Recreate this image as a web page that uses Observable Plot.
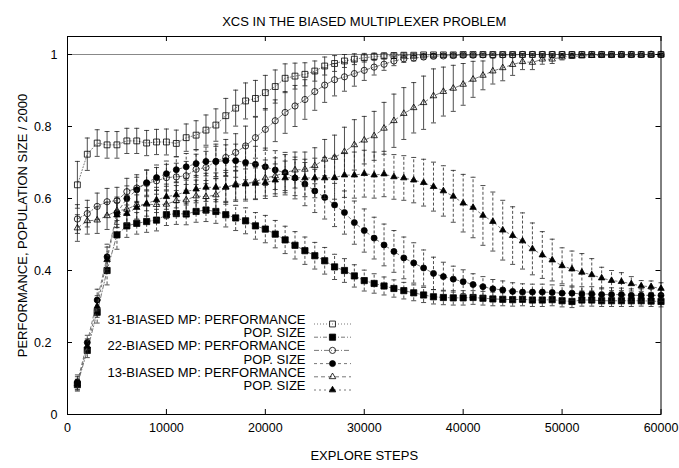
<!DOCTYPE html>
<html><head><meta charset="utf-8">
<script src="https://cdn.jsdelivr.net/npm/d3@7"></script>
<script src="https://cdn.jsdelivr.net/npm/@observablehq/plot@0.6"></script>
<style>body{margin:0;background:#fff}</style>
</head><body><div id="chart"></div>
<script>
const title = "XCS IN THE BIASED MULTIPLEXER PROBLEM";
const xLabel = "EXPLORE STEPS";
const yLabel = "PERFORMANCE, POPULATION SIZE / 2000";
const xTicks = [0, 10000, 20000, 30000, 40000, 50000, 60000];
const yTicksEnds = [0, 1];
const yTicksMid = [0.2, 0.4, 0.6, 0.8];
const steps = [1000,2000,3000,4000,5000,6000,7000,8000,9000,10000,
 11000,12000,13000,14000,15000,16000,17000,18000,19000,20000,
 21000,22000,23000,24000,25000,26000,27000,28000,29000,30000,
 31000,32000,33000,34000,35000,36000,37000,38000,39000,40000,
 41000,42000,43000,44000,45000,46000,47000,48000,49000,50000,
 51000,52000,53000,54000,55000,56000,57000,58000,59000,60000];

const perf31 = [.638,.723,.754,.749,.749,.760,.760,.754,.757,.757,
 .753,.769,.776,.790,.804,.830,.851,.871,.878,.894,
 .911,.934,.940,.945,.954,.968,.975,.982,.987,.991,
 .994,.996,.997,.998,.998,.999,.999,.999,.999,1,
 1,1,1,1,1,1,1,1,1,1,
 1,1,1,1,1,1,1,1,1,1];
const sdPerf31 = [.065,.045,.037,.037,.037,.035,.035,.035,.035,.036,
 .037,.038,.040,.042,.045,.048,.050,.050,.050,.048,
 .046,.040,.036,.032,.028,.025,.022,.018,.015,.012,
 .010,.008,.007,.006,.005,.004,.004,.003,.003,.003,
 .002,.002,.002,.002,.002,.002,.002,.002,.002,.002,
 .002,.002,.002,.002,.002,.002,.002,.002,.002,.002];
const pop31 = [.083,.178,.284,.400,.499,.524,.531,.536,.540,.555,
 .558,.557,.564,.568,.564,.555,.546,.538,.524,.515,
 .501,.485,.470,.455,.441,.427,.410,.400,.385,.372,
 .364,.357,.350,.344,.338,.332,.327,.325,.324,.324,
 .325,.323,.321,.320,.319,.320,.318,.318,.319,.316,
 .314,.318,.318,.316,.316,.316,.316,.316,.315,.314];
const sdPop31 = [.015,.02,.03,.04,.04,.032,.03,.03,.03,.03,
 .03,.03,.03,.032,.033,.034,.035,.036,.037,.038,
 .038,.038,.038,.038,.037,.037,.035,.033,.031,.029,
 .027,.025,.024,.023,.022,.021,.02,.02,.02,.02,
 .019,.019,.019,.018,.018,.018,.018,.018,.017,.017,
 .017,.017,.017,.016,.016,.016,.016,.015,.015,.015];
const perf22 = [.543,.558,.578,.591,.594,.619,.629,.642,.649,.658,
 .660,.663,.681,.686,.703,.714,.728,.746,.769,.792,
 .816,.839,.857,.875,.897,.915,.930,.938,.947,.956,
 .965,.973,.982,.988,.990,.993,.995,.996,.997,.998,
 .998,.999,.999,.999,.999,1,1,1,1,1,
 1,1,1,1,1,1,1,1,1,1];
const sdPerf22 = [.04,.037,.037,.037,.037,.037,.037,.037,.037,.037,
 .038,.04,.042,.045,.048,.05,.052,.055,.057,.058,
 .058,.058,.057,.055,.052,.048,.045,.04,.035,.028,
 .022,.017,.013,.01,.008,.006,.005,.004,.004,.003,
 .003,.003,.002,.002,.002,.002,.002,.002,.002,.002,
 .002,.002,.002,.002,.002,.002,.002,.002,.002,.002];
const pop22 = [.090,.200,.318,.438,.560,.600,.624,.644,.658,.669,
 .680,.688,.697,.703,.703,.705,.705,.700,.695,.688,
 .679,.672,.657,.640,.621,.603,.582,.561,.533,.511,
 .490,.471,.453,.435,.421,.407,.392,.383,.376,.369,
 .361,.355,.349,.346,.342,.340,.340,.340,.339,.337,
 .337,.335,.335,.333,.333,.333,.331,.331,.331,.331];
const sdPop22 = [.02,.02,.03,.035,.04,.035,.035,.035,.035,.035,
 .036,.037,.038,.04,.042,.044,.046,.048,.05,.052,
 .054,.056,.058,.06,.06,.06,.06,.06,.06,.06,
 .058,.058,.058,.058,.056,.05,.045,.04,.036,.033,
 .03,.028,.026,.025,.024,.023,.022,.022,.021,.021,
 .02,.02,.02,.019,.019,.018,.018,.018,.017,.017];
const perf13 = [.518,.538,.540,.552,.566,.570,.583,.584,.583,.584,
 .594,.596,.607,.605,.610,.631,.640,.642,.647,.657,
 .663,.672,.679,.681,.691,.709,.714,.730,.749,.762,
 .774,.795,.816,.836,.852,.866,.885,.897,.906,.917,
 .931,.942,.954,.963,.972,.980,.978,.987,.987,.993,
 .995,.996,.997,.998,.998,.999,.999,.999,1,1];
const sdPerf13 = [.037,.037,.037,.038,.038,.039,.04,.04,.04,.04,
 .042,.043,.044,.045,.046,.047,.048,.049,.05,.05,
 .05,.05,.05,.048,.05,.055,.062,.068,.07,.066,
 .068,.072,.074,.072,.07,.074,.075,.068,.064,.058,
 .05,.04,.036,.036,.03,.022,.02,.014,.012,.008,
 .006,.005,.004,.004,.003,.003,.002,.002,.002,.002];
const pop13 = [.085,.190,.300,.430,.554,.558,.575,.586,.596,.605,
 .610,.619,.626,.631,.631,.632,.637,.640,.642,.644,
 .651,.657,.658,.657,.657,.657,.658,.665,.665,.669,
 .665,.668,.660,.657,.651,.644,.633,.621,.606,.587,
 .575,.553,.536,.512,.497,.482,.460,.443,.429,.413,
 .404,.395,.388,.379,.372,.369,.363,.357,.355,.350];
const sdPop13 = [.02,.02,.03,.035,.035,.035,.035,.035,.035,.035,
 .036,.037,.038,.039,.04,.04,.041,.042,.043,.044,
 .045,.047,.05,.052,.055,.057,.06,.062,.064,.065,
 .064,.063,.062,.062,.063,.065,.068,.07,.072,.08,
 .084,.083,.082,.083,.08,.078,.072,.065,.058,.05,
 .05,.052,.045,.03,.028,.025,.02,.015,.016,.016];

const legendLabels = ["31-BIASED MP: PERFORMANCE", "POP. SIZE", "22-BIASED MP: PERFORMANCE", "POP. SIZE", "13-BIASED MP: PERFORMANCE", "POP. SIZE"];

const series = [
  {values: perf31, sd: sdPerf31, symbol: "square", r: 3.3, filled: false, lineDash: "1,2", barDash: null},
  {values: pop31, sd: sdPop31, symbol: "square", r: 3.5, filled: true, lineDash: "4,2,1,2", barDash: "3,2"},
  {values: perf22, sd: sdPerf22, symbol: "circle", r: 3.1, filled: false, lineDash: "5,2,1,2", barDash: null},
  {values: pop22, sd: sdPop22, symbol: "circle", r: 3.0, filled: true, lineDash: "3,3", barDash: "3,2"},
  {values: perf13, sd: sdPerf13, symbol: "triangle", r: 2.4, filled: false, lineDash: "4,3", barDash: null},
  {values: pop13, sd: sdPop13, symbol: "triangle", r: 2.4, filled: true, lineDash: "2,3", barDash: "3,2"}
];

const capSymbol = {draw(ctx) { ctx.moveTo(-2.5, 0); ctx.lineTo(2.5, 0); }};
const lineSymbol = {draw(ctx) { ctx.moveTo(-18.5, 0); ctx.lineTo(18.5, 0); }};

const W = 679, H = 468, mL = 67, mR = 18.5, mT = 36, mB = 54;
const fw = W - mL - mR, fh = H - mT - mB, tk = 5;
const font = "'Liberation Sans', Arial, Helvetica, sans-serif";

const marks = [];
marks.push(Plot.ruleY([1], {y: d => d, stroke: "#888", strokeWidth: 1}));
series.forEach(s => {
  const data = steps.map((x, i) => ({x, y: s.values[i], sd: s.sd[i]}));
  const barStyle = {stroke: "#222", strokeWidth: 0.8, strokeDasharray: s.barDash};
  marks.push(Plot.ruleX(data, {x: "x", y1: d => d.y - d.sd, y2: d => Math.min(1.05, d.y + d.sd), ...barStyle}));
  marks.push(Plot.dot(data, {x: "x", y: d => d.y + d.sd, symbol: capSymbol, fill: "none", stroke: "#222", strokeWidth: 0.8}));
  marks.push(Plot.dot(data, {x: "x", y: d => d.y - d.sd, symbol: capSymbol, fill: "none", stroke: "#222", strokeWidth: 0.8}));
  marks.push(Plot.line(data, {x: "x", y: "y", stroke: "#555", strokeWidth: 0.8, strokeDasharray: s.lineDash}));
  marks.push(Plot.dot(data, {x: "x", y: "y", symbol: s.symbol, r: s.r, fill: s.filled ? "black" : "none", stroke: "black", strokeWidth: 0.8}));
});

// legend
series.forEach((s, i) => {
  const dy = -90.5 + 13.2 * i;
  marks.push(Plot.text([legendLabels[i]], {frameAnchor: "bottom-left", dx: 238, dy, text: d => d, textAnchor: "end", fontSize: 13, fill: "black"}));
  marks.push(Plot.dot([0], {frameAnchor: "bottom-left", dx: 265, dy, symbol: lineSymbol, fill: "none", stroke: "#555", strokeWidth: 0.8, strokeDasharray: s.lineDash}));
  marks.push(Plot.dot([0], {frameAnchor: "bottom-left", dx: 265, dy, symbol: s.symbol, r: s.r, fill: s.filled ? "black" : "none", stroke: "black", strokeWidth: 0.8}));
});

// inward ticks on all four sides
marks.push(Plot.tickX(xTicks, {x: d => d, insetTop: fh - tk, stroke: "black"}));
marks.push(Plot.tickX(xTicks, {x: d => d, insetBottom: fh - tk, stroke: "black"}));
marks.push(Plot.tickY([...yTicksEnds, ...yTicksMid], {y: d => d, insetRight: fw - tk, stroke: "black"}));
marks.push(Plot.tickY([...yTicksEnds, ...yTicksMid], {y: d => d, insetLeft: fw - tk, stroke: "black"}));

// tick labels
marks.push(Plot.axisX(xTicks, {tickSize: 0, tickPadding: 9, label: null, tickFormat: d => `${d}`, fontSize: 12.5}));
marks.push(Plot.axisY(yTicksEnds, {tickSize: 0, tickPadding: 10, label: null, tickFormat: d => `${d}`, fontSize: 12.5}));
marks.push(Plot.axisY(yTicksMid, {tickSize: 0, tickPadding: 16, label: null, tickFormat: d => `${d}`, fontSize: 12.5}));

marks.push(Plot.frame({stroke: "black", strokeWidth: 1}));

// titles
marks.push(Plot.text([title], {frameAnchor: "top", dy: -19.5, text: d => d, fontSize: 13, fill: "black"}));
marks.push(Plot.text([xLabel], {frameAnchor: "bottom", dy: 45.5, text: d => d, fontSize: 13, fill: "black"}));
marks.push(Plot.text([yLabel], {frameAnchor: "left", dx: -44.5, rotate: -90, textAnchor: "middle", text: d => d, fontSize: 13, fill: "black"}));

const chart = Plot.plot({
  width: W, height: H,
  marginLeft: mL, marginRight: mR, marginTop: mT, marginBottom: mB,
  x: {domain: [0, 60000]},
  y: {domain: [0, 1.05]},
  style: {fontFamily: font, fontSize: "13px", background: "white", color: "black"},
  marks
});
document.getElementById("chart").appendChild(chart);
</script>
</body></html>
